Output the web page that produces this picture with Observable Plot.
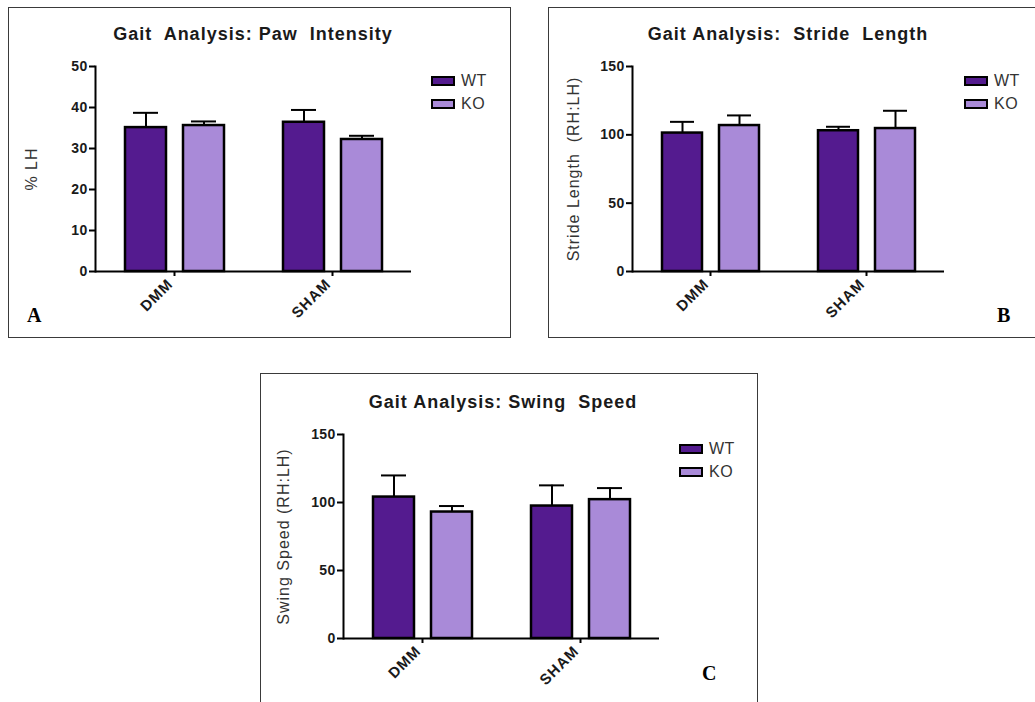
<!DOCTYPE html>
<html>
<head>
<meta charset="utf-8">
<script src="https://cdn.jsdelivr.net/npm/d3@7"></script>
<script src="https://cdn.jsdelivr.net/npm/@observablehq/plot@0.6"></script>
<style>
html, body { margin: 0; padding: 0; background: #fff; overflow: hidden; width: 1035px; height: 702px; }
.panel { position: absolute; border: 1px solid #3a3a3a; box-sizing: border-box; overflow: hidden; background: #fff; }
.panel svg { position: absolute; left: 0; top: 0; }
.title { position: absolute; font: bold 18px "Liberation Sans", Arial, sans-serif; line-height: 1; color: #1a1a1a; white-space: pre; transform: translateX(-50%); letter-spacing: 1px; }
.letter { position: absolute; font: bold 20px "Liberation Serif", "Times New Roman", serif; line-height: 1; color: #000; }
.leg { position: absolute; font: 16px "Liberation Sans", Arial, sans-serif; line-height: 1; color: #333; letter-spacing: 0.5px; }
.sw { position: absolute; width: 24px; height: 10px; border: 2px solid #000; box-sizing: border-box; }
svg g[aria-label="y-axis tick label"] text { font-weight: bold; font-size: 14px; letter-spacing: 0.3px; fill: #1a1a1a; }
svg g[aria-label="fx-axis tick label"] text { font-weight: bold; font-size: 15px; letter-spacing: 1px; fill: #1a1a1a; }
svg g[aria-label="y-axis label"] text { font-size: 16px; letter-spacing: 1px; fill: #333; }
</style>
</head>
<body>
<script>
// ---- data ----
const groups = ["DMM", "SHAM"];
const series = ["WT", "KO"];
const seriesColors = ["#541b8f", "#a98ad8"];
// order: DMM-WT, DMM-KO, SHAM-WT, SHAM-KO
const pawMean = [35.1, 35.6, 36.4, 32.2];
const pawErr = [3.6, 1.0, 3.0, 0.9];
const strideMean = [101.3, 106.8, 103.0, 104.6];
const strideErr = [8.2, 7.4, 2.9, 13.0];
const swingMean = [104.0, 93.0, 97.4, 102.1];
const swingErr = [15.9, 4.4, 15.2, 8.5];
const pawTicks = [0, 10, 20, 30, 40, 50];
const gaitTicks = [0, 50, 100, 150];
const titles = ["Gait  Analysis: Paw  Intensity", "Gait Analysis:  Stride  Length", "Gait Analysis: Swing  Speed"];
const yLabels = ["% LH", "Stride Length  (RH:LH)", "Swing Speed (RH:LH)"];
const letters = ["A", "B", "C"];

function rowsOf(mean, err) {
  const rows = [];
  groups.forEach((g, i) => series.forEach((s, j) => {
    const k = i * series.length + j;
    rows.push({group: g, series: s, value: mean[k], err: err[k]});
  }));
  return rows;
}

// ---- layout ----
const panels = [
  {left: 8, top: 7, w: 503, h: 331, mL: 85, mT: 58, mB: 66, mR: 99, labelOffset: 70,
   title: {x: 244, y: 17}, legend: {x: 422, y: 68, tx: 452}, letter: {x: 18, y: 297},
   mean: pawMean, err: pawErr, domain: [0, 50], ticks: pawTicks},
  {left: 548, top: 7, w: 488, h: 331, mL: 82, mT: 58, mB: 66, mR: 91, labelOffset: 65,
   title: {x: 239, y: 17}, legend: {x: 415, y: 68, tx: 445}, letter: {x: 448, y: 297},
   mean: strideMean, err: strideErr, domain: [0, 150], ticks: gaitTicks},
  {left: 260, top: 373, w: 498, h: 340, mL: 82, mT: 60, mB: 74, mR: 98, labelOffset: 66,
   title: {x: 242, y: 19}, legend: {x: 418, y: 70, tx: 448}, letter: {x: 441, y: 289},
   mean: swingMean, err: swingErr, domain: [0, 150], ticks: gaitTicks}
];

panels.forEach((p, idx) => {
  const div = document.createElement("div");
  div.className = "panel";
  Object.assign(div.style, {left: p.left + "px", top: p.top + "px", width: p.w + "px", height: p.h + "px"});
  document.body.appendChild(div);

  const rows = rowsOf(p.mean, p.err);
  const chart = Plot.plot({
    width: p.w - 2,
    height: p.h - 2,
    marginLeft: p.mL, marginTop: p.mT, marginBottom: p.mB, marginRight: p.mR,
    style: {fontFamily: "'Liberation Sans', Arial, sans-serif", fontSize: "13px", background: "transparent", overflow: "visible"},
    fx: {domain: groups, padding: 0, label: null},
    x: {domain: series, paddingInner: 0.3, paddingOuter: 0.5, axis: null},
    y: {domain: p.domain},
    color: {domain: series, range: seriesColors},
    marks: [
      Plot.barY(rows, {fx: "group", x: "series", y: "value", fill: "series", stroke: "#000", strokeWidth: 2.5}),
      Plot.ruleX(rows, {fx: "group", x: "series", y1: "value", y2: d => d.value + d.err, stroke: "#000", strokeWidth: 2}),
      Plot.tickY(rows, {fx: "group", x: "series", y: d => d.value + d.err, stroke: "#000", strokeWidth: 2, insetLeft: 8, insetRight: 8}),
      Plot.ruleY([0], {stroke: "#000", strokeWidth: 2}),
      Plot.frame({anchor: "left", facetAnchor: "left", stroke: "#000", strokeWidth: 2}),
      Plot.axisY({ticks: p.ticks, tickSize: 6, tickPadding: 2, strokeWidth: 2, stroke: "#000",
        label: yLabels[idx], labelAnchor: "center", labelArrow: "none", labelOffset: p.labelOffset}),
      Plot.axisFx({anchor: "bottom", tickSize: 5, tickFormat: null, strokeWidth: 2, stroke: "#000", label: null}),
      Plot.axisFx({anchor: "bottom", tickRotate: -45, tickSize: 0, tickPadding: 10, dx: -4, label: null})
    ]
  });
  div.appendChild(chart);

  const t = document.createElement("div");
  t.className = "title";
  t.textContent = titles[idx];
  Object.assign(t.style, {left: p.title.x + "px", top: p.title.y + "px"});
  div.appendChild(t);

  series.forEach((s, j) => {
    const sw = document.createElement("div");
    sw.className = "sw";
    Object.assign(sw.style, {left: p.legend.x + "px", top: (p.legend.y + j * 23) + "px", background: seriesColors[j]});
    div.appendChild(sw);
    const lt = document.createElement("div");
    lt.className = "leg";
    lt.textContent = s;
    Object.assign(lt.style, {left: p.legend.tx + "px", top: (p.legend.y - 3 + j * 23) + "px"});
    div.appendChild(lt);
  });

  const L = document.createElement("div");
  L.className = "letter";
  L.textContent = letters[idx];
  Object.assign(L.style, {left: p.letter.x + "px", top: p.letter.y + "px"});
  div.appendChild(L);
});
</script>
</body>
</html>
